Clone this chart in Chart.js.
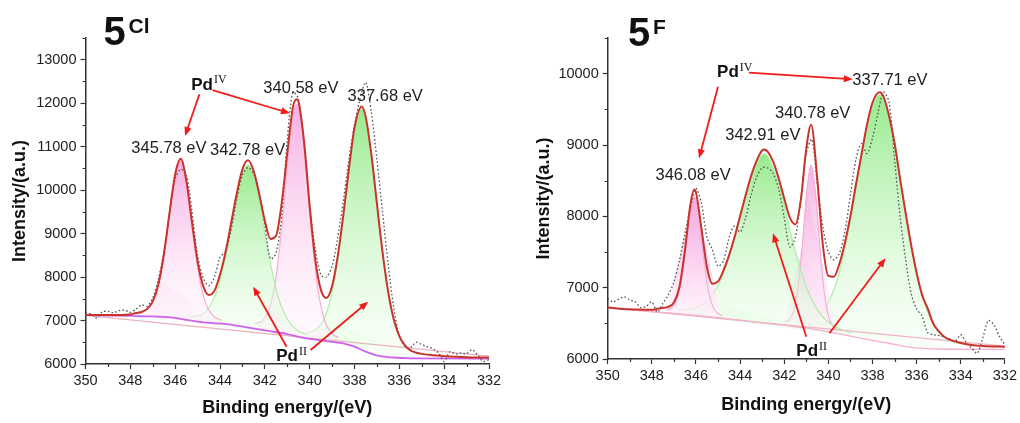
<!DOCTYPE html>
<html>
<head>
<meta charset="utf-8">
<script src="https://cdn.jsdelivr.net/npm/chart.js@4.4.1/dist/chart.umd.min.js"></script>
<style>
  html, body { margin: 0; padding: 0; background: #fff; }
  #wrap { position: relative; width: 1020px; height: 423px; }
  canvas { position: absolute; top: 0; }
</style>
</head>
<body>
<div id="wrap">
  <canvas id="chartCl" width="510" height="423" style="left:0"></canvas>
  <canvas id="chartF" width="510" height="423" style="left:510px"></canvas>
</div>
<script>
// ---- shared axis values ----
const energyTicks = [350, 348, 346, 344, 342, 340, 338, 336, 334, 332];
const energyTicksMinor = [349, 347, 345, 343, 341, 339, 337, 335, 333];
const clTicksY = [6000, 7000, 8000, 9000, 10000, 11000, 12000, 13000];
const clMinorY = [6500, 7500, 8500, 9500, 10500, 11500, 12500, 13500];
const fTicksY = [6000, 7000, 8000, 9000, 10000];
const fMinorY = [6500, 7500, 8500, 9500, 10500];

// measured spectrum energy grid (eV)
const rawEnergy = [350, 349.75, 349.5, 349.25, 349, 348.75, 348.5, 348.25, 348, 347.75, 347.5, 347.25, 347, 346.75, 346.5, 346.25, 346, 345.75, 345.5, 345.25, 345, 344.75, 344.5, 344.25, 344, 343.75, 343.5, 343.25, 343, 342.75, 342.5, 342.25, 342, 341.75, 341.5, 341.25, 341, 340.75, 340.5, 340.25, 340, 339.75, 339.5, 339.25, 339, 338.75, 338.5, 338.25, 338, 337.75, 337.5, 337.25, 337, 336.75, 336.5, 336.25, 336, 335.75, 335.5, 335.25, 335, 334.75, 334.5, 334.25, 334, 333.75, 333.5, 333.25, 333, 332.75, 332.5, 332.25, 332];

// ---- 5Cl panel ----
const clRaw = [7180, 7150, 7060, 7200, 7210, 7180, 7230, 7240, 7190, 7260, 7360, 7330, 7520, 7950, 8600, 9450, 10250, 10480, 10350, 9500, 8500, 7980, 7800, 8000, 8450, 8600, 9100, 9800, 10350, 10520, 10380, 9950, 9200, 8420, 8550, 9400, 11150, 12250, 12100, 11050, 9650, 8650, 8050, 8000, 8250, 8900, 9750, 10700, 11500, 12100, 12480, 11800, 10700, 9500, 8300, 7300, 6650, 6400, 6380, 6500, 6450, 6400, 6350, 6250, 6060, 6280, 6230, 6250, 6240, 6330, 6200, 6060, 6100];

const clEnvE = [350, 349, 348, 347.75, 347.5, 347.25, 347, 346.75, 346.5, 346.25, 346, 345.75, 345.5, 345.25, 345, 344.75, 344.5, 344.25, 344, 343.75, 343.5, 343.25, 343, 342.75, 342.5, 342.25, 342, 341.75, 341.5, 341.25, 341, 340.75, 340.58, 340.5, 340.25, 340, 339.75, 339.5, 339.25, 339, 338.75, 338.5, 338.25, 338, 337.68, 337.5, 337.25, 337, 336.75, 336.5, 336.25, 336, 335.75, 335.5, 335.25, 335, 334.5, 334, 333, 332];
const clEnv = [7130, 7125, 7140, 7173, 7196, 7268, 7439, 7826, 8531, 9482, 10363, 10720, 10212, 9267, 8358, 7796, 7588, 7682, 8052, 8577, 9250, 9930, 10478, 10686, 10443, 9907, 9298, 8877, 8950, 9690, 10840, 11900, 12090, 12030, 11120, 9636, 8406, 7705, 7519, 7797, 8469, 9421, 10485, 11433, 11925, 11686, 10827, 9687, 8573, 7666, 7031, 6642, 6429, 6313, 6262, 6233, 6199, 6181, 6158, 6150];

const clShirleyE = [350, 348, 347, 346.7, 346, 345.5, 345, 344.6, 343.7, 342.8, 341.9, 341, 340.4, 339.4, 338.5, 338, 337.5, 336.9, 336.3, 335.5, 332];
const clShirley = [7125, 7105, 7095, 7087, 7060, 7015, 6975, 6950, 6919, 6843, 6766, 6689, 6613, 6536, 6475, 6400, 6285, 6185, 6150, 6130, 6125];
const clLinearE = [350, 332];
const clLinear = [7120, 6180];

// fitted components (pink = Pd IV, green = Pd II)
const clPd4aE = [343.92, 344.23, 344.54, 344.85, 345.16, 345.47, 345.78, 346.09, 346.40, 346.71, 347.02, 347.33, 347.64];
const clPd4a = [7007, 7075, 7275, 7801, 8803, 10036, 10670, 10087, 8890, 7922, 7421, 7235, 7179];
const clPd2aE = [340.11, 340.55, 340.99, 341.43, 341.87, 342.31, 342.75, 343.19, 343.63, 344.07, 344.51, 344.95, 345.39];
const clPd2a = [6673, 6774, 7025, 7586, 8633, 9916, 10579, 9991, 8783, 7792, 7283, 7113, 7088];
const clPd4bE = [338.72, 339.03, 339.34, 339.65, 339.96, 340.27, 340.58, 340.89, 341.20, 341.51, 341.82, 342.13, 342.44];
const clPd4b = [6607, 6714, 7013, 7783, 9249, 11051, 11976, 11123, 9376, 7961, 7240, 6989, 6929];
const clPd2bE = [335.16, 335.58, 336.00, 336.42, 336.84, 337.26, 337.68, 338.10, 338.52, 338.94, 339.36, 339.78, 340.20];
const clPd2b = [6251, 6342, 6642, 7434, 8957, 10868, 11876, 11038, 9251, 7782, 7033, 6776, 6719];

// ---- 5F panel ----
const fRaw = [6850, 6800, 6840, 6870, 6830, 6800, 6720, 6740, 6800, 6660, 6780, 6900, 7080, 7380, 7760, 8120, 8390, 8180, 7700, 7530, 7300, 7380, 7700, 7870, 7780, 7980, 8300, 8550, 8680, 8680, 8600, 8380, 7980, 7570, 7700, 8250, 8880, 9080, 8450, 7850, 7500, 7390, 7480, 7790, 8300, 8800, 9020, 8880, 9100, 9450, 9740, 9600, 8790, 8000, 7400, 6920, 6700, 6600, 6370, 6340, 6330, 6310, 6280, 6250, 6340, 6230, 6150, 6080, 6300, 6540, 6480, 6320, 6200];

const fEnvE = [350, 349, 348, 347.75, 347.5, 347.25, 347, 346.75, 346.5, 346.25, 346.08, 346, 345.75, 345.5, 345.25, 345, 344.75, 344.5, 344.25, 344, 343.75, 343.5, 343.25, 343, 342.91, 342.75, 342.5, 342.25, 342, 341.75, 341.5, 341.25, 341, 340.78, 340.5, 340.25, 340, 339.75, 339.5, 339.25, 339, 338.75, 338.5, 338.25, 338, 337.68, 337.5, 337.25, 337, 336.75, 336.5, 336.25, 336, 335.75, 335.5, 335.25, 335, 334.75, 334.5, 334, 333.5, 333, 332];
const fEnv = [6722, 6696, 6690, 6705, 6717, 6730, 6793, 7010, 7520, 8171, 8376, 8336, 7827, 7282, 7055, 7087, 7244, 7453, 7709, 8006, 8295, 8569, 8781, 8925, 8936, 8908, 8768, 8531, 8249, 7985, 7887, 8224, 8952, 9284, 8513, 7598, 7165, 7152, 7335, 7631, 8006, 8446, 8866, 9282, 9594, 9740, 9677, 9406, 9030, 8526, 8049, 7598, 7206, 6896, 6710, 6498, 6391, 6313, 6271, 6225, 6195, 6183, 6173];

const fShirleyE = [350, 348, 346, 345, 344, 343, 342, 341, 340, 339, 338, 337.5, 337, 336.5, 336, 335.5, 335, 332];
const fShirley = [6720, 6668, 6612, 6580, 6545, 6505, 6470, 6435, 6380, 6320, 6260, 6232, 6205, 6175, 6155, 6145, 6140, 6135];
const fLinearE = [350, 332];
const fLinear = [6720, 6180];

const fPd4aE = [344.82, 345.03, 345.24, 345.45, 345.66, 345.87, 346.08, 346.29, 346.50, 346.71, 346.92, 347.13, 347.34];
const fPd4a = [6611, 6644, 6738, 6978, 7432, 7991, 8274, 8003, 7456, 7014, 6787, 6707, 6687];
const fPd2aE = [339.01, 339.66, 340.31, 340.96, 341.61, 342.26, 342.91, 343.56, 344.21, 344.86, 345.51, 346.16, 346.81];
const fPd2a = [6373, 6450, 6611, 6979, 7644, 8457, 8876, 8503, 7740, 7121, 6810, 6707, 6687];
const fPd4bE = [339.58, 339.78, 339.98, 340.18, 340.38, 340.58, 340.78, 340.98, 341.18, 341.38, 341.58, 341.78, 341.98];
const fPd4b = [6406, 6454, 6586, 6919, 7551, 8328, 8723, 8350, 7591, 6977, 6662, 6549, 6520];
const fPd2bE = [333.93, 334.56, 335.18, 335.81, 336.43, 337.06, 337.68, 338.31, 338.93, 339.56, 340.18, 340.81, 341.43];
const fPd2b = [6213, 6270, 6453, 6947, 7903, 9090, 9702, 9161, 8046, 7150, 6701, 6556, 6526];

// peak labels and arrows, in data units (eV, counts)
const clLabels = [
  { x: 346.28, y: 10969, text: "345.78 eV" },
  { x: 342.77, y: 10923, text: "342.78 eV" },
  { x: 340.39, y: 12349, text: "340.58 eV" },
  { x: 336.63, y: 12165, text: "337.68 eV" }
];
const clPd = [{ x: 344.80, y: 12418, sup: "IV" }, { x: 341.01, y: 6173, sup: "II" }];
const clArrows = [
  [344.92, 12204, 345.56, 11245],
  [344.33, 12303, 340.88, 11767],
  [341.03, 6398, 342.52, 7778],
  [339.96, 6322, 337.39, 7433]
];
const fLabels = [
  { x: 337.21, y: 9911, text: "337.71 eV" },
  { x: 340.71, y: 9442, text: "340.78 eV" },
  { x: 342.97, y: 9140, text: "342.91 eV" },
  { x: 346.13, y: 8580, text: "346.08 eV" }
];
const fPd = [{ x: 344.55, y: 10017, sup: "IV" }, { x: 340.96, y: 6105, sup: "II" }];
const fArrows = [
  [343.60, 10014, 338.89, 9921],
  [345.00, 9817, 345.86, 8814],
  [341.00, 6313, 342.51, 7762],
  [339.95, 6360, 337.41, 7412]
];

const FONT = "'Liberation Sans', Arial, sans-serif";
const PINK = { line: "rgb(246,172,214)", top: "rgba(245,168,224,0.9)", base: "rgba(255,240,251,0.35)" };
const GREEN = { line: "rgb(172,238,166)", top: "rgba(140,232,128,0.9)", base: "rgba(236,255,234,0.35)" };

function pts(xs, ys) {
  return xs.map((x, i) => ({ x: x, y: ys[i] }));
}

// vertical gradient from the peak top down to its base
function peakFill(top, base) {
  return (c) => {
    const chart = c.chart;
    if (!chart.chartArea || !c.dataset) return top;
    const ys = c.dataset.data.map((p) => p.y);
    const sy = chart.scales.y;
    const g = chart.ctx.createLinearGradient(0, sy.getPixelForValue(Math.max(...ys)), 0, sy.getPixelForValue(Math.min(...ys)));
    g.addColorStop(0, top);
    g.addColorStop(1, base);
    return g;
  };
}

function drawArrow(ctx, x1, y1, x2, y2) {
  const a = Math.atan2(y2 - y1, x2 - x1);
  const len = 9, half = 3.6;
  const cos = Math.cos(a), sin = Math.sin(a);
  ctx.beginPath();
  ctx.moveTo(x1, y1);
  ctx.lineTo(x2 - len * 0.7 * cos, y2 - len * 0.7 * sin);
  ctx.stroke();
  ctx.beginPath();
  ctx.moveTo(x2, y2);
  ctx.lineTo(x2 - len * cos + half * sin, y2 - len * sin - half * cos);
  ctx.lineTo(x2 - len * cos - half * sin, y2 - len * sin + half * cos);
  ctx.closePath();
  ctx.fill();
}

function makeExtras(p) {
  return {
    id: "extras",
    afterDraw(chart) {
      const { ctx, chartArea: ca } = chart;
      const sx = chart.scales.x, sy = chart.scales.y;
      ctx.save();

      // minor ticks
      ctx.strokeStyle = "#333";
      ctx.lineWidth = 1.2;
      ctx.beginPath();
      energyTicksMinor.forEach((v) => {
        const px = Math.round(sx.getPixelForValue(v)) + 0.5;
        ctx.moveTo(px, ca.bottom);
        ctx.lineTo(px, ca.bottom + 3);
      });
      p.minorY.forEach((v) => {
        const py = Math.round(sy.getPixelForValue(v)) + 0.5;
        ctx.moveTo(ca.left, py);
        ctx.lineTo(ca.left - 3, py);
      });
      ctx.stroke();

      // panel title, e.g. 5 with superscript
      ctx.fillStyle = "#111";
      ctx.textAlign = "left";
      ctx.textBaseline = "alphabetic";
      ctx.font = "bold 40px " + FONT;
      ctx.fillText("5", p.titleX, p.titleY);
      ctx.font = "bold 21px " + FONT;
      ctx.fillText(p.titleSup, p.titleX + 25, p.titleY - 12);

      // peak position labels
      ctx.font = "16.5px " + FONT;
      ctx.fillStyle = "#222";
      ctx.textAlign = "center";
      ctx.textBaseline = "middle";
      p.labels.forEach((l) => {
        ctx.fillText(l.text, sx.getPixelForValue(l.x), sy.getPixelForValue(l.y));
      });

      // Pd oxidation state labels
      p.pd.forEach((d) => {
        const cx = sx.getPixelForValue(d.x), cy = sy.getPixelForValue(d.y);
        ctx.font = "bold 17px " + FONT;
        ctx.fillStyle = "#111";
        ctx.textAlign = "center";
        ctx.fillText("Pd", cx, cy);
        const w = ctx.measureText("Pd").width;
        ctx.font = "12px 'Liberation Serif', serif";
        ctx.textAlign = "left";
        ctx.fillText(d.sup, cx + w / 2 + 1, cy - 5);
      });

      // red arrows
      ctx.strokeStyle = "#f01c1c";
      ctx.fillStyle = "#f01c1c";
      ctx.lineWidth = 1.8;
      p.arrows.forEach((a) => {
        drawArrow(ctx, sx.getPixelForValue(a[0]), sy.getPixelForValue(a[1]), sx.getPixelForValue(a[2]), sy.getPixelForValue(a[3]));
      });
      ctx.restore();
    }
  };
}

function buildPanel(id, p) {
  const line = { pointRadius: 0, borderJoinStyle: "round" };
  const comps = p.comps.map((c) => ({
    ...line,
    data: pts(c.e, c.v),
    borderColor: c.col.line,
    borderWidth: 1.2,
    backgroundColor: peakFill(c.col.top, c.col.base),
    fill: 2,
    cubicInterpolationMode: "monotone"
  }));

  return new Chart(document.getElementById(id), {
    type: "line",
    data: {
      datasets: [
        { ...line, data: pts(p.envE, p.env), borderColor: "rgb(200,52,44)", borderWidth: 2, cubicInterpolationMode: "monotone", fill: false },
        { ...line, data: pts(rawEnergy, p.raw), borderColor: "#555", borderWidth: 1.3, borderDash: [1.6, 2.2], tension: 0.3, fill: false },
        { ...line, data: pts(p.shirleyE, p.shirley), borderColor: p.shirleyCol, borderWidth: p.shirleyW, cubicInterpolationMode: "monotone", fill: false },
        { ...line, data: pts(p.linearE, p.linear), borderColor: p.linearCol, borderWidth: 1.3, fill: false },
        ...comps
      ]
    },
    options: {
      responsive: false,
      animation: false,
      devicePixelRatio: 1,
      layout: { padding: { left: 0, right: p.padRight, top: 38, bottom: 0 } },
      plugins: { legend: { display: false }, tooltip: { enabled: false } },
      scales: {
        x: {
          type: "linear",
          reverse: true,
          min: 332,
          max: 350,
          afterBuildTicks: (s) => { s.ticks = energyTicks.map((v) => ({ value: v })); },
          ticks: { maxRotation: 0, padding: 3, color: "#222", font: { family: FONT, size: 14.5 }, callback: (v) => String(v) },
          grid: { drawOnChartArea: false, drawTicks: true, tickLength: 5, tickWidth: 1.2, tickColor: "#333" },
          border: { color: "#333", width: 1.5 },
          title: { display: true, text: "Binding energy/(eV)", color: "#111", font: { family: FONT, size: 18, weight: "bold" }, padding: { top: 0, bottom: p.xTitlePad } },
          afterFit: (s) => { s.height = p.xHeight; }
        },
        y: {
          min: 6000,
          max: p.yMax,
          afterBuildTicks: (s) => { s.ticks = p.ticksY.map((v) => ({ value: v })); },
          ticks: { padding: 4, color: "#222", font: { family: FONT, size: 14.5 }, callback: (v) => String(v) },
          grid: { drawOnChartArea: false, drawTicks: true, tickLength: 5, tickWidth: 1.2, tickColor: "#333" },
          border: { color: "#333", width: 1.5 },
          title: { display: true, text: "Intensity/(a.u.)", color: "#111", font: { family: FONT, size: 18, weight: "bold" }, padding: { top: p.yTitlePad, bottom: 0 } },
          afterFit: (s) => { s.width = p.yWidth; }
        }
      }
    },
    plugins: [makeExtras(p)]
  });
}

buildPanel("chartCl", {
  raw: clRaw, envE: clEnvE, env: clEnv,
  shirleyE: clShirleyE, shirley: clShirley, shirleyCol: "rgb(208,96,240)", shirleyW: 1.8,
  linearE: clLinearE, linear: clLinear, linearCol: "rgb(232,180,188)",
  comps: [
    { e: clPd4aE, v: clPd4a, col: PINK },
    { e: clPd2aE, v: clPd2a, col: GREEN },
    { e: clPd4bE, v: clPd4b, col: PINK },
    { e: clPd2bE, v: clPd2b, col: GREEN }
  ],
  yMax: 13500, ticksY: clTicksY, minorY: clMinorY,
  padRight: 21, yWidth: 85.5, xHeight: 59, xTitlePad: 4, yTitlePad: 9,
  titleX: 103.5, titleY: 45, titleSup: "Cl",
  labels: clLabels, pd: clPd, arrows: clArrows
});

buildPanel("chartF", {
  raw: fRaw, envE: fEnvE, env: fEnv,
  shirleyE: fShirleyE, shirley: fShirley, shirleyCol: "rgb(244,176,206)", shirleyW: 1.3,
  linearE: fLinearE, linear: fLinear, linearCol: "rgb(240,180,196)",
  comps: [
    { e: fPd4aE, v: fPd4a, col: PINK },
    { e: fPd2aE, v: fPd2a, col: GREEN },
    { e: fPd4bE, v: fPd4b, col: PINK },
    { e: fPd2bE, v: fPd2b, col: GREEN }
  ],
  yMax: 10500, ticksY: fTicksY, minorY: fMinorY,
  padRight: 14.3, yWidth: 97.7, xHeight: 64, xTitlePad: 7, yTitlePad: 23,
  titleX: 118, titleY: 46, titleSup: "F",
  labels: fLabels, pd: fPd, arrows: fArrows
});
</script>
</body>
</html>
